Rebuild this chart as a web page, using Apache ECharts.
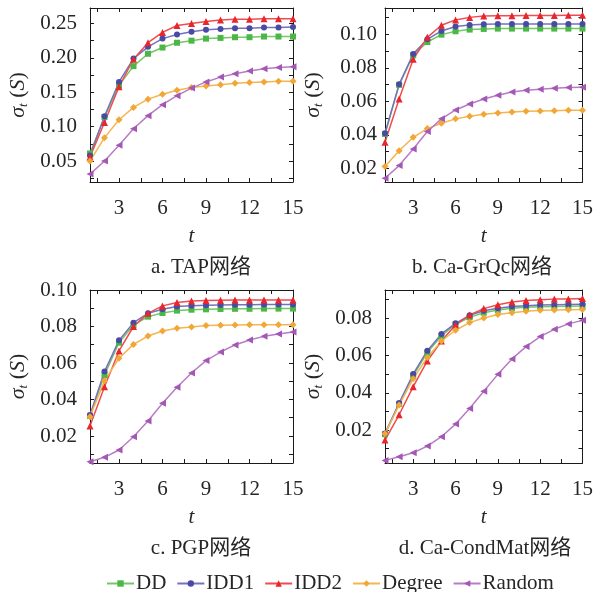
<!DOCTYPE html>
<html>
<head>
<meta charset="utf-8">
<script src="https://cdn.jsdelivr.net/npm/echarts@6/dist/echarts.min.js"></script>
<style>
  html, body { margin: 0; padding: 0; background: #fff; }
  #chart { width: 596px; height: 592px; }
</style>
</head>
<body>
<div id="chart"></div>
<script>
// Spread σ_t(S) over time t for five seed-selection strategies on four networks
const steps = [1, 2, 3, 4, 5, 6, 7, 8, 9, 10, 11, 12, 13, 14, 15];
const seriesNames = ['DD', 'IDD1', 'IDD2', 'Degree', 'Random'];
const captions = ['a. TAP网络', 'b. Ca-GrQc网络', 'c. PGP网络', 'd. Ca-CondMat网络'];
const xTickLabels = [3, 6, 9, 12, 15];

// a. TAP
const tapDD     = [0.061, 0.114, 0.160, 0.188, 0.206, 0.215, 0.222, 0.225, 0.228, 0.229, 0.230, 0.230, 0.231, 0.231, 0.231];
const tapIDD1   = [0.058, 0.115, 0.165, 0.199, 0.216, 0.228, 0.234, 0.238, 0.241, 0.242, 0.243, 0.243, 0.244, 0.244, 0.245];
const tapIDD2   = [0.056, 0.106, 0.158, 0.198, 0.222, 0.237, 0.247, 0.250, 0.253, 0.255, 0.256, 0.256, 0.257, 0.257, 0.257];
const tapDegree = [0.050, 0.084, 0.110, 0.128, 0.140, 0.147, 0.153, 0.157, 0.159, 0.161, 0.163, 0.164, 0.165, 0.166, 0.166];
const tapRandom = [0.031, 0.050, 0.073, 0.097, 0.116, 0.132, 0.145, 0.156, 0.165, 0.172, 0.177, 0.181, 0.184, 0.186, 0.187];
const tapTicks  = [0.05, 0.10, 0.15, 0.20, 0.25];

// b. Ca-GrQc
const grqcDD     = [0.0405, 0.0698, 0.0875, 0.0954, 0.0998, 0.1018, 0.1028, 0.1032, 0.1034, 0.1034, 0.1034, 0.1034, 0.1034, 0.1034, 0.1034];
const grqcIDD1   = [0.0409, 0.0701, 0.0883, 0.0970, 0.1020, 0.1046, 0.1056, 0.1060, 0.1062, 0.1062, 0.1062, 0.1062, 0.1062, 0.1062, 0.1062];
const grqcIDD2   = [0.0355, 0.0614, 0.0851, 0.0982, 0.1054, 0.1086, 0.1101, 0.1109, 0.1111, 0.1111, 0.1112, 0.1112, 0.1112, 0.1113, 0.1113];
const grqcDegree = [0.0210, 0.0305, 0.0385, 0.0437, 0.0469, 0.0495, 0.0510, 0.0522, 0.0530, 0.0536, 0.0540, 0.0542, 0.0544, 0.0546, 0.0546];
const grqcRandom = [0.0140, 0.0216, 0.0315, 0.0419, 0.0495, 0.0548, 0.0584, 0.0614, 0.0636, 0.0656, 0.0666, 0.0672, 0.0678, 0.0682, 0.0684];
const grqcTicks  = [0.02, 0.04, 0.06, 0.08, 0.10];

// c. PGP
const pgpDD     = [0.0310, 0.0534, 0.0711, 0.0808, 0.0854, 0.0874, 0.0887, 0.0892, 0.0894, 0.0896, 0.0897, 0.0897, 0.0898, 0.0898, 0.0898];
const pgpIDD1   = [0.0315, 0.0553, 0.0724, 0.0821, 0.0872, 0.0894, 0.0909, 0.0914, 0.0917, 0.0918, 0.0919, 0.0919, 0.0920, 0.0920, 0.0920];
const pgpIDD2   = [0.0255, 0.0470, 0.0666, 0.0800, 0.0872, 0.0913, 0.0931, 0.0940, 0.0943, 0.0944, 0.0945, 0.0945, 0.0945, 0.0945, 0.0945];
const pgpDegree = [0.0306, 0.0503, 0.0626, 0.0702, 0.0748, 0.0775, 0.0790, 0.0797, 0.0805, 0.0807, 0.0808, 0.0809, 0.0810, 0.0810, 0.0810];
const pgpRandom = [0.0059, 0.0083, 0.0123, 0.0196, 0.0282, 0.0379, 0.0467, 0.0545, 0.0613, 0.0660, 0.0699, 0.0726, 0.0746, 0.0759, 0.0770];
const pgpTicks  = [0.02, 0.04, 0.06, 0.08, 0.10];

// d. Ca-CondMat
const condDD     = [0.0178, 0.0340, 0.0492, 0.0616, 0.0705, 0.0768, 0.0805, 0.0830, 0.0845, 0.0854, 0.0859, 0.0862, 0.0864, 0.0865, 0.0866];
const condIDD1   = [0.0182, 0.0345, 0.0501, 0.0626, 0.0716, 0.0773, 0.0816, 0.0841, 0.0854, 0.0863, 0.0868, 0.0872, 0.0873, 0.0874, 0.0875];
const condIDD2   = [0.0146, 0.0282, 0.0433, 0.0571, 0.0678, 0.0764, 0.0818, 0.0852, 0.0873, 0.0888, 0.0895, 0.0900, 0.0903, 0.0904, 0.0906];
const condDegree = [0.0180, 0.0334, 0.0476, 0.0590, 0.0678, 0.0736, 0.0777, 0.0802, 0.0820, 0.0830, 0.0838, 0.0843, 0.0845, 0.0846, 0.0847];
const condRandom = [0.0037, 0.0057, 0.0078, 0.0114, 0.0164, 0.0232, 0.0316, 0.0408, 0.0499, 0.0582, 0.0648, 0.0702, 0.0741, 0.0770, 0.0789];
const condTicks  = [0.02, 0.04, 0.06, 0.08];

const panelData = [
  [tapDD, tapIDD1, tapIDD2, tapDegree, tapRandom],
  [grqcDD, grqcIDD1, grqcIDD2, grqcDegree, grqcRandom],
  [pgpDD, pgpIDD1, pgpIDD2, pgpDegree, pgpRandom],
  [condDD, condIDD1, condIDD2, condDegree, condRandom]
];
const panelYTicks = [tapTicks, grqcTicks, pgpTicks, condTicks];

// ---- styling ----
const SERIF = '"Liberation Serif", "Times New Roman", "Noto Sans CJK SC", serif';
const TEXT = '#262626';
const FS = 21;
const markerColors = ['#4cb646', '#4a4aa6', '#e8262b', '#f2a636', '#a457b4'];
const lineColors   = ['#72c866', '#7570bf', '#f04b4e', '#f5b54f', '#b87bc6'];
const symbols      = ['rect', 'circle', 'triangle', 'diamond', 'triangle'];
const symbolRot    = [0, 0, 0, 0, 90];
const symbolSizes  = [6, 6, 7, 7, 7];

const grids = [
  { left: 90,  top: 8,   width: 203, height: 174 },
  { left: 385, top: 8,   width: 202, height: 174 },
  { left: 90,  top: 290, width: 203, height: 173 },
  { left: 385, top: 290, width: 202, height: 173 }
];
const captionCenters = [201, 482, 201, 485];
const yRanges = [
  [0.0195, 0.2725],
  [0.0118, 0.1157],
  [0.0052, 0.1000],
  [0.0023, 0.0952]
];
const yMinor = [0.025, 0.01, 0.01, 0.01];
const yLabelMargin = [13, 8, 13, 13];

function rangeTicks(lo, hi, step) {
  const out = [];
  const start = Math.ceil(lo / step - 1e-9);
  for (let k = start; k * step <= hi + 1e-9; k++) out.push(+(k * step).toFixed(4));
  return out;
}
const xMinorTicks = rangeTicks(1.5, 15, 1.5);

const axisLineStyle = { show: true, lineStyle: { color: '#1a1a1a', width: 1 } };
const tickStyle = { lineStyle: { color: '#1a1a1a', width: 1 } };

const option = {
  animation: false,
  backgroundColor: '#fff',
  textStyle: { fontFamily: SERIF, color: TEXT },
  title: captions.map((c, i) => ({
    text: c,
    left: captionCenters[i],
    top: grids[i].top + grids[i].height + 75,
    textAlign: 'center',
    padding: 0,
    textStyle: { fontFamily: SERIF, fontSize: FS, fontWeight: 'normal', color: TEXT }
  })),
  legend: {
    data: seriesNames,
    top: 573,
    left: 106,
    padding: 0,
    itemWidth: 27,
    itemHeight: 8,
    itemGap: 10,
    textStyle: { fontFamily: SERIF, fontSize: FS, color: TEXT, padding: [0, 0, 0, -3] }
  },
  grid: grids.map(g => Object.assign({ containLabel: false }, g)),
  xAxis: [],
  yAxis: [],
  series: []
};

grids.forEach((g, i) => {
  // bottom axis with labels
  option.xAxis.push({
    type: 'value', gridIndex: i, min: 1, max: 15,
    name: 't', nameLocation: 'middle', nameGap: 44,
    nameTextStyle: { fontFamily: SERIF, fontStyle: 'italic', fontSize: FS, color: TEXT },
    axisLine: axisLineStyle,
    axisTick: Object.assign({ inside: true, length: 4, customValues: xMinorTicks }, tickStyle),
    axisLabel: { customValues: xTickLabels, fontFamily: SERIF, fontSize: FS, color: TEXT, margin: 16 },
    splitLine: { show: false }
  });
  // mirrored top axis
  option.xAxis.push({
    type: 'value', gridIndex: i, min: 1, max: 15, position: 'top',
    axisLine: axisLineStyle,
    axisTick: Object.assign({ inside: true, length: 4, customValues: xMinorTicks }, tickStyle),
    axisLabel: { show: false },
    splitLine: { show: false }
  });
  const [lo, hi] = yRanges[i];
  const yMinorTicks = rangeTicks(lo, hi, yMinor[i]);
  option.yAxis.push({
    type: 'value', gridIndex: i, min: lo, max: hi,
    name: '{s|σ}{sub|t}{p| (}{s|S}{p|)}',
    nameLocation: 'middle', nameGap: 60,
    nameTextStyle: {
      rich: {
        s: { fontFamily: SERIF, fontStyle: 'italic', fontSize: 22, color: TEXT },
        sub: { fontFamily: SERIF, fontStyle: 'italic', fontSize: 13, color: TEXT, verticalAlign: 'bottom', padding: [11, 0, 0, 0] },
        p: { fontFamily: SERIF, fontSize: 22, color: TEXT }
      }
    },
    axisLine: axisLineStyle,
    axisTick: Object.assign({ inside: true, length: 4, customValues: yMinorTicks }, tickStyle),
    axisLabel: {
      customValues: panelYTicks[i], fontFamily: SERIF, fontSize: FS, color: TEXT, margin: yLabelMargin[i],
      formatter: v => v.toFixed(2)
    },
    splitLine: { show: false }
  });
  option.yAxis.push({
    type: 'value', gridIndex: i, min: lo, max: hi, position: 'right',
    axisLine: axisLineStyle,
    axisTick: Object.assign({ inside: true, length: 4, customValues: yMinorTicks }, tickStyle),
    axisLabel: { show: false },
    splitLine: { show: false }
  });

  panelData[i].forEach((vals, k) => {
    option.series.push({
      name: seriesNames[k],
      type: 'line',
      xAxisIndex: i * 2,
      yAxisIndex: i * 2,
      data: steps.map((t, j) => [t, vals[j]]),
      symbol: symbols[k],
      symbolRotate: symbolRot[k],
      symbolSize: symbolSizes[k],
      showAllSymbol: true,
      itemStyle: { color: markerColors[k] },
      lineStyle: { color: lineColors[k], width: 1.5 },
      emphasis: { disabled: true }
    });
  });
});

const chart = echarts.init(document.getElementById('chart'), null, { renderer: 'canvas' });
chart.setOption(option);
</script>
</body>
</html>
